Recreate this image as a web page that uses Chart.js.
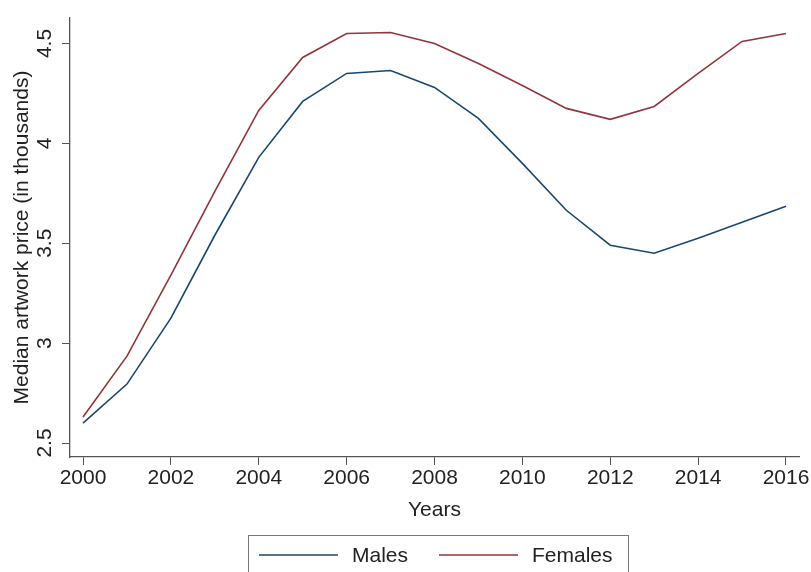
<!DOCTYPE html>
<html>
<head>
<meta charset="utf-8">
<script src="https://cdn.jsdelivr.net/npm/chart.js@4"></script>
<style>
  html, body { margin: 0; padding: 0; background: #fff; }
  #wrap { width: 811px; height: 572px; position: relative; }
</style>
</head>
<body>
<div id="wrap"><canvas id="chart"></canvas></div>
<script>
const years = [2000, 2001, 2002, 2003, 2004, 2005, 2006, 2007, 2008, 2009, 2010, 2011, 2012, 2013, 2014, 2015, 2016];
const males = [2.60, 2.795, 3.125, 3.54, 3.93, 4.21, 4.35, 4.365, 4.28, 4.125, 3.90, 3.665, 3.49, 3.45, 3.525, 3.605, 3.685];
const females = [2.63, 2.935, 3.34, 3.76, 4.165, 4.43, 4.55, 4.555, 4.50, 4.40, 4.29, 4.175, 4.12, 4.185, 4.35, 4.51, 4.55];
const xTicks = [2000, 2002, 2004, 2006, 2008, 2010, 2012, 2014, 2016];
const yTicks = [2.5, 3, 3.5, 4, 4.5];

const FONT = "'Liberation Sans', Arial, sans-serif";
const TEXT = "#222";
const AXIS = "#555";

// y tick labels are vertical in the original, draw them here
const yLabels = {
  id: "yLabels",
  afterDraw(chart) {
    const ctx = chart.ctx;
    const y = chart.scales.y;
    ctx.save();
    ctx.fillStyle = TEXT;
    ctx.font = "21px " + FONT;
    ctx.textAlign = "center";
    ctx.textBaseline = "alphabetic";
    yTicks.forEach((v) => {
      const py = y.getPixelForValue(v);
      ctx.save();
      ctx.translate(y.right - 19, py);
      ctx.rotate(-Math.PI / 2);
      ctx.fillText(String(v), 0, 0);
      ctx.restore();
    });
    ctx.restore();
  },
};

// boxed legend at the bottom, like stata
const boxLegend = {
  id: "boxLegend",
  afterDraw(chart) {
    const ctx = chart.ctx;
    const left = 248, top = 535, w = 380, h = 50, cy = 555;
    ctx.save();
    ctx.strokeStyle = "#777";
    ctx.lineWidth = 1;
    ctx.strokeRect(left + 0.5, top + 0.5, w, h);
    ctx.font = "21px " + FONT;
    ctx.textBaseline = "middle";
    ctx.fillStyle = TEXT;
    const items = [
      { ds: chart.data.datasets[0], x: 259 },
      { ds: chart.data.datasets[1], x: 439 },
    ];
    items.forEach((it) => {
      ctx.strokeStyle = it.ds.borderColor;
      ctx.lineWidth = 1.6;
      ctx.beginPath();
      ctx.moveTo(it.x, cy);
      ctx.lineTo(it.x + 79, cy);
      ctx.stroke();
      ctx.fillText(it.ds.label, it.x + 93, cy + 1);
    });
    ctx.restore();
  },
};

new Chart(document.getElementById("chart"), {
  type: "line",
  data: {
    datasets: [
      {
        label: "Males",
        data: years.map((yr, i) => ({ x: yr, y: males[i] })),
        borderColor: "#1a476f",
        borderWidth: 1.6,
        pointRadius: 0,
        tension: 0,
      },
      {
        label: "Females",
        data: years.map((yr, i) => ({ x: yr, y: females[i] })),
        borderColor: "#90353b",
        borderWidth: 1.6,
        pointRadius: 0,
        tension: 0,
      },
    ],
  },
  options: {
    responsive: true,
    maintainAspectRatio: false,
    animation: false,
    layout: { padding: { top: 18, right: 12, left: 0, bottom: 0 } },
    plugins: {
      legend: { display: false },
      tooltip: { enabled: false },
    },
    scales: {
      x: {
        type: "linear",
        min: 1999.704,
        max: 2016.296,
        afterBuildTicks: (s) => { s.ticks = xTicks.map((v) => ({ value: v })); },
        afterFit: (s) => { s.height = 115; },
        grid: { drawOnChartArea: false, drawTicks: true, tickLength: 8, color: AXIS },
        border: { display: true, color: AXIS, width: 1.3 },
        ticks: {
          color: TEXT,
          font: { family: FONT, size: 21 },
          padding: 1,
          maxRotation: 0,
          autoSkip: false,
          callback: (v) => String(v),
        },
        title: {
          display: true,
          text: "Years",
          color: TEXT,
          font: { family: FONT, size: 21 },
          padding: { top: 0, bottom: 49 },
        },
      },
      y: {
        min: 2.43,
        max: 4.6275,
        afterBuildTicks: (s) => { s.ticks = yTicks.map((v) => ({ value: v })); },
        afterFit: (s) => { s.width = 70; },
        grid: { drawOnChartArea: false, drawTicks: true, tickLength: 8, color: AXIS },
        border: { display: true, color: AXIS, width: 1.3 },
        ticks: { display: false },
        title: {
          display: true,
          text: "Median artwork price (in thousands)",
          color: TEXT,
          font: { family: FONT, size: 21 },
          padding: { top: 10, bottom: 0 },
        },
      },
    },
  },
  plugins: [yLabels, boxLegend],
});
</script>
</body>
</html>
